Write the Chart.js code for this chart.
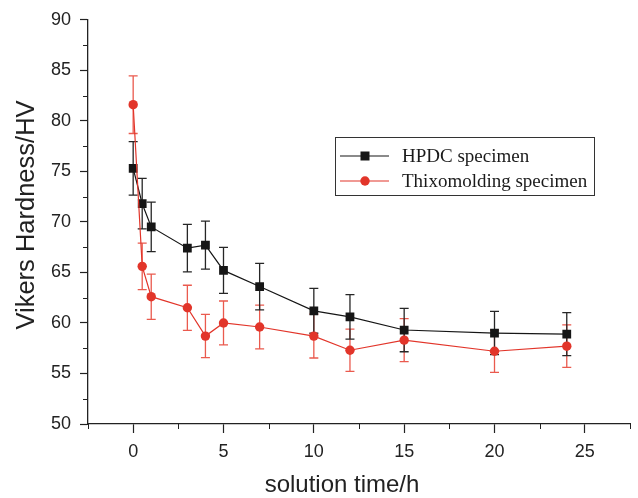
<!DOCTYPE html>
<html>
<head>
<meta charset="utf-8">
<script src="https://cdn.jsdelivr.net/npm/chart.js@4/dist/chart.umd.min.js"></script>
<style>
html,body{margin:0;padding:0;background:#fff;}
#wrap{width:638px;height:498px;position:relative;}
</style>
</head>
<body>
<div id="wrap"><canvas id="c" width="638" height="498"></canvas></div>
<script>
const times = [0, 0.5, 1, 3, 4, 5, 7, 10, 12, 15, 20, 24];
const hpdc = [75.3, 71.8, 69.5, 67.4, 67.7, 65.2, 63.6, 61.2, 60.6, 59.3, 59.0, 58.9];
const hpdcErr = [2.65, 2.5, 2.45, 2.35, 2.37, 2.27, 2.3, 2.22, 2.2, 2.15, 2.14, 2.13];
const thixo = [81.6, 65.6, 62.6, 61.5, 58.7, 60.0, 59.6, 58.7, 57.3, 58.3, 57.2, 57.7];
const thixoErr = [2.85, 2.3, 2.24, 2.23, 2.14, 2.17, 2.17, 2.17, 2.09, 2.12, 2.1, 2.1];
const seriesNames = ['HPDC specimen', 'Thixomolding specimen'];
const xTitle = 'solution time/h';
const yTitle = 'Vikers Hardness/HV';

const BLACK = '#161616';
const RED = '#e2352a';
const RED_ERR = '#ea5a4e';
const AXIS = '#222';

function pts(ys) { return times.map((t, i) => ({x: t, y: ys[i]})); }

const errorBars = {
  id: 'errorBars',
  beforeDatasetsDraw(chart) {
    const ctx = chart.ctx;
    const xs = chart.scales.x, ys = chart.scales.y;
    chart.data.datasets.forEach(ds => {
      ctx.save();
      ctx.strokeStyle = ds.errColor;
      ctx.lineWidth = 1.3;
      ds.data.forEach((p, i) => {
        const e = ds.err[i];
        const px = xs.getPixelForValue(p.x);
        const pt = ys.getPixelForValue(p.y + e);
        const pb = ys.getPixelForValue(p.y - e);
        ctx.beginPath();
        ctx.moveTo(px, pt); ctx.lineTo(px, pb);
        ctx.moveTo(px - 4.5, pt); ctx.lineTo(px + 4.5, pt);
        ctx.moveTo(px - 4.5, pb); ctx.lineTo(px + 4.5, pb);
        ctx.stroke();
      });
      ctx.restore();
    });
  }
};

const minorTicks = {
  id: 'minorTicks',
  afterDraw(chart) {
    const ctx = chart.ctx;
    const xs = chart.scales.x, ys = chart.scales.y;
    ctx.save();
    ctx.strokeStyle = AXIS;
    ctx.lineWidth = 1;
    ctx.beginPath();
    xs.ticks.forEach(t => {
      if (Math.abs(t.value % 5) > 1e-6) {
        const px = Math.round(xs.getPixelForValue(t.value)) + 0.5;
        ctx.moveTo(px, xs.top); ctx.lineTo(px, xs.top + 5);
      }
    });
    ys.ticks.forEach(t => {
      if (Math.abs(t.value % 5) > 1e-6) {
        const py = Math.round(ys.getPixelForValue(t.value)) + 0.5;
        ctx.moveTo(ys.right, py); ctx.lineTo(ys.right - 5, py);
      }
    });
    ctx.stroke();
    ctx.restore();
  }
};

const titlesAndLegend = {
  id: 'titlesAndLegend',
  afterDraw(chart) {
    const ctx = chart.ctx;
    ctx.save();
    ctx.fillStyle = AXIS;
    ctx.textAlign = 'center';
    ctx.textBaseline = 'middle';
    ctx.font = '24px "Liberation Sans", Arial, sans-serif';
    ctx.fillText(xTitle, 342, 485);
    ctx.font = '25.5px "Liberation Sans", Arial, sans-serif';
    ctx.translate(27, 215);
    ctx.rotate(-Math.PI / 2);
    ctx.fillText(yTitle, 0, 0);
    ctx.restore();

    // legend
    ctx.save();
    ctx.strokeStyle = '#333';
    ctx.lineWidth = 1;
    ctx.strokeRect(335.5, 137.5, 259, 58);
    const rows = [
      {y: 156, color: BLACK, shape: 'rect', name: seriesNames[0]},
      {y: 181, color: RED, shape: 'circle', name: seriesNames[1]}
    ];
    rows.forEach(r => {
      ctx.strokeStyle = r.color;
      ctx.lineWidth = 1.2;
      ctx.beginPath();
      ctx.moveTo(340, r.y); ctx.lineTo(389, r.y);
      ctx.stroke();
      ctx.fillStyle = r.color;
      if (r.shape === 'rect') {
        ctx.fillRect(360.5, r.y - 4.5, 9, 9);
      } else {
        ctx.beginPath();
        ctx.arc(365, r.y, 4.7, 0, Math.PI * 2);
        ctx.fill();
      }
      ctx.fillStyle = '#1a1a1a';
      ctx.font = '19px "Liberation Serif", "Times New Roman", serif';
      ctx.textAlign = 'left';
      ctx.textBaseline = 'middle';
      ctx.fillText(r.name, 402, r.y + 1);
    });
    ctx.restore();
  }
};

new Chart(document.getElementById('c'), {
  type: 'scatter',
  data: {
    datasets: [
      {
        label: seriesNames[1],
        data: pts(thixo),
        err: thixoErr,
        errColor: RED_ERR,
        showLine: true,
        borderColor: RED,
        borderWidth: 1.2,
        backgroundColor: RED,
        pointStyle: 'circle',
        pointRadius: 4.7,
        pointBorderWidth: 0,
        pointHoverRadius: 4.7
      },
      {
        label: seriesNames[0],
        data: pts(hpdc),
        err: hpdcErr,
        errColor: '#262626',
        showLine: true,
        borderColor: BLACK,
        borderWidth: 1.2,
        backgroundColor: BLACK,
        pointStyle: 'rect',
        pointRadius: 6.2,
        pointBorderWidth: 0,
        pointHoverRadius: 6.2
      }
    ]
  },
  options: {
    responsive: false,
    animation: false,
    events: [],
    layout: {padding: {top: 19, right: 4.5, left: 0, bottom: 0}},
    plugins: {legend: {display: false}, tooltip: {enabled: false}},
    scales: {
      x: {
        type: 'linear',
        min: -2.5, max: 27.5,
        afterFit(s) { s.height = 74; },
        border: {display: true, color: AXIS, width: 1.3},
        grid: {
          drawOnChartArea: false, drawTicks: true, tickLength: 9,
          tickColor: c => (c.tick && Math.abs(c.tick.value % 5) < 1e-6) ? AXIS : 'rgba(0,0,0,0)',
          tickWidth: 1.2
        },
        ticks: {
          stepSize: 2.5, autoSkip: false, maxRotation: 0,
          padding: 8, color: AXIS,
          font: {family: '"Liberation Sans", Arial, sans-serif', size: 18},
          callback: v => (Math.abs(v % 5) < 1e-6 && v >= 0) ? String(v) : ''
        }
      },
      y: {
        type: 'linear',
        min: 50, max: 90,
        afterFit(s) { s.width = 88; },
        border: {display: true, color: AXIS, width: 1.3},
        grid: {
          drawOnChartArea: false, drawTicks: true, tickLength: 8,
          tickColor: c => (c.tick && Math.abs(c.tick.value % 5) < 1e-6) ? AXIS : 'rgba(0,0,0,0)',
          tickWidth: 1.2
        },
        ticks: {
          stepSize: 2.5, autoSkip: false,
          padding: 9, color: AXIS,
          font: {family: '"Liberation Sans", Arial, sans-serif', size: 18},
          callback: v => (Math.abs(v % 5) < 1e-6) ? String(v) : ''
        }
      }
    }
  },
  plugins: [errorBars, minorTicks, titlesAndLegend]
});
</script>
</body>
</html>
